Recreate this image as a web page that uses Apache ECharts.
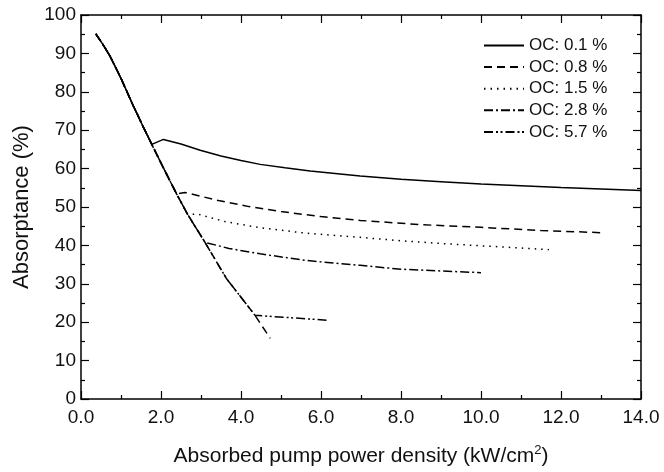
<!DOCTYPE html>
<html>
<head>
<meta charset="utf-8">
<script src="https://cdn.jsdelivr.net/npm/echarts@6/dist/echarts.min.js"></script>
<style>html,body{margin:0;padding:0;background:#fff;}#c{width:664px;height:472px;}</style>
</head>
<body>
<div id="c"></div>
<script>
// Shared below-threshold (descending) curve
var descX = [0.37, 0.55, 0.73, 1.0, 1.3, 1.55, 1.77, 2.05, 2.39, 2.67, 3.1, 3.64, 4.0, 4.35, 4.73];
var descY = [95.1, 92.3, 89.2, 83.5, 76.5, 71.0, 66.3, 60.4, 53.4, 48.0, 40.8, 31.3, 26.5, 21.8, 15.8];

// Branches above threshold for each output coupler
var names = ["OC: 0.1 %", "OC: 0.8 %", "OC: 1.5 %", "OC: 2.8 %", "OC: 5.7 %"];
var oc01X = [1.77, 2.06, 2.5, 2.98, 3.5, 4.0, 4.48, 5.1, 5.73, 6.98, 8.0, 9.0, 10.0, 12.0, 14.0];
var oc01Y = [66.3, 67.6, 66.4, 64.8, 63.3, 62.1, 61.1, 60.2, 59.4, 58.1, 57.2, 56.6, 56.0, 55.1, 54.3];
var oc08X = [2.39, 2.6, 3.47, 4.2, 5.0, 6.0, 6.98, 8.5, 10.0, 11.5, 13.02];
var oc08Y = [53.4, 53.8, 51.6, 50.1, 48.8, 47.5, 46.5, 45.4, 44.7, 43.9, 43.3];
var oc15X = [2.67, 2.9, 3.6, 4.48, 5.6, 6.98, 8.0, 9.0, 10.0, 11.7];
var oc15Y = [48.0, 48.2, 46.2, 44.6, 43.2, 42.1, 41.2, 40.5, 39.9, 38.9];
var oc28X = [3.1, 3.7, 4.48, 5.6, 6.98, 8.0, 10.0];
var oc28Y = [40.8, 39.2, 37.8, 36.1, 34.8, 33.8, 32.9];
var oc57X = [4.35, 5.18, 6.18];
var oc57Y = [21.8, 21.2, 20.5];

var xTicks = [0, 2, 4, 6, 8, 10, 12, 14];
var yTicks = [0, 10, 20, 30, 40, 50, 60, 70, 80, 90, 100];

var branchX = [oc01X, oc08X, oc15X, oc28X, oc57X];
var branchY = [oc01Y, oc08Y, oc15Y, oc28Y, oc57Y];
var dashes = ['solid', [8, 5], [1.5, 5], [9, 3, 2, 3], [9, 3, 2, 2.5, 2, 3]];

function zip(xs, ys) { return xs.map(function (x, i) { return [x, ys[i]]; }); }

var FONT = '"Liberation Sans", Arial, sans-serif';
var series = [];
// descending curve as a dashed underlying line
series.push({
  name: 'threshold', type: 'line', data: zip(descX, descY), symbol: 'none',
  lineStyle: { color: '#000', width: 1.5, type: [8, 5] }, itemStyle: { color: '#000' }, silent: true, z: 1
});
for (var s = 0; s < 5; s++) {
  var pts = [];
  for (var i = 0; i < descX.length; i++) {
    if (descX[i] < branchX[s][0]) pts.push([descX[i], descY[i]]);
  }
  pts = pts.concat(zip(branchX[s], branchY[s]));
  series.push({
    name: names[s], type: 'line', data: pts, symbol: 'none', smooth: false,
    itemStyle: { color: '#000' },
    lineStyle: { color: '#000', width: 1.5, type: dashes[s] }, z: 2
  });
}

var axisCommon = {
  axisLine: { show: true, onZero: false, lineStyle: { color: '#000', width: 1.5 } },
  axisTick: { show: true, inside: true, length: 8, lineStyle: { color: '#000', width: 1.2 } },
  minorTick: { show: true, splitNumber: 2, length: 4, lineStyle: { color: '#000', width: 1.2 } },
  splitLine: { show: false }
};

var chart = echarts.init(document.getElementById('c'), null, { renderer: 'canvas' });
chart.setOption({
  backgroundColor: '#fff',
  animation: false,
  grid: { left: 81, right: 23, top: 15, bottom: 71, containLabel: false },
  legend: {
    data: names, orient: 'vertical', left: 483, top: 37, padding: 0,
    itemWidth: 40, itemHeight: 14, itemGap: 4.6,
    itemStyle: { opacity: 0, borderWidth: 0 },
    textStyle: { fontFamily: FONT, fontSize: 17, lineHeight: 14, color: '#111' }
  },
  xAxis: [
    Object.assign({}, axisCommon, {
      type: 'value', min: xTicks[0], max: xTicks[xTicks.length - 1], interval: 2, position: 'bottom',
      axisLabel: { show: true, margin: 9, fontFamily: FONT, fontSize: 19, color: '#111',
        formatter: function (v) { return v.toFixed(1); } },
      name: 'Absorbed pump power density (kW/cm{sup|2})', nameLocation: 'middle', nameGap: 45,
      nameTextStyle: { fontFamily: FONT, fontSize: 21, color: '#111',
        rich: { sup: { fontFamily: FONT, fontSize: 13, color: '#111', verticalAlign: 'top', padding: [0, 0, 12, 0] } } }
    }),
    Object.assign({}, axisCommon, {
      type: 'value', min: 0, max: 14, interval: 2, position: 'top',
      axisLabel: { show: false }
    })
  ],
  yAxis: [
    Object.assign({}, axisCommon, {
      type: 'value', min: yTicks[0], max: yTicks[yTicks.length - 1], interval: 10, position: 'left',
      axisLabel: { show: true, margin: 5, fontFamily: FONT, fontSize: 19, color: '#111' },
      name: 'Absorptance (%)', nameLocation: 'middle', nameGap: 48, nameRotate: 90,
      nameTextStyle: { fontFamily: FONT, fontSize: 22, color: '#111' }
    }),
    Object.assign({}, axisCommon, {
      type: 'value', min: 0, max: 100, interval: 10, position: 'right',
      axisLabel: { show: false }
    })
  ],
  series: series
});
</script>
</body>
</html>
